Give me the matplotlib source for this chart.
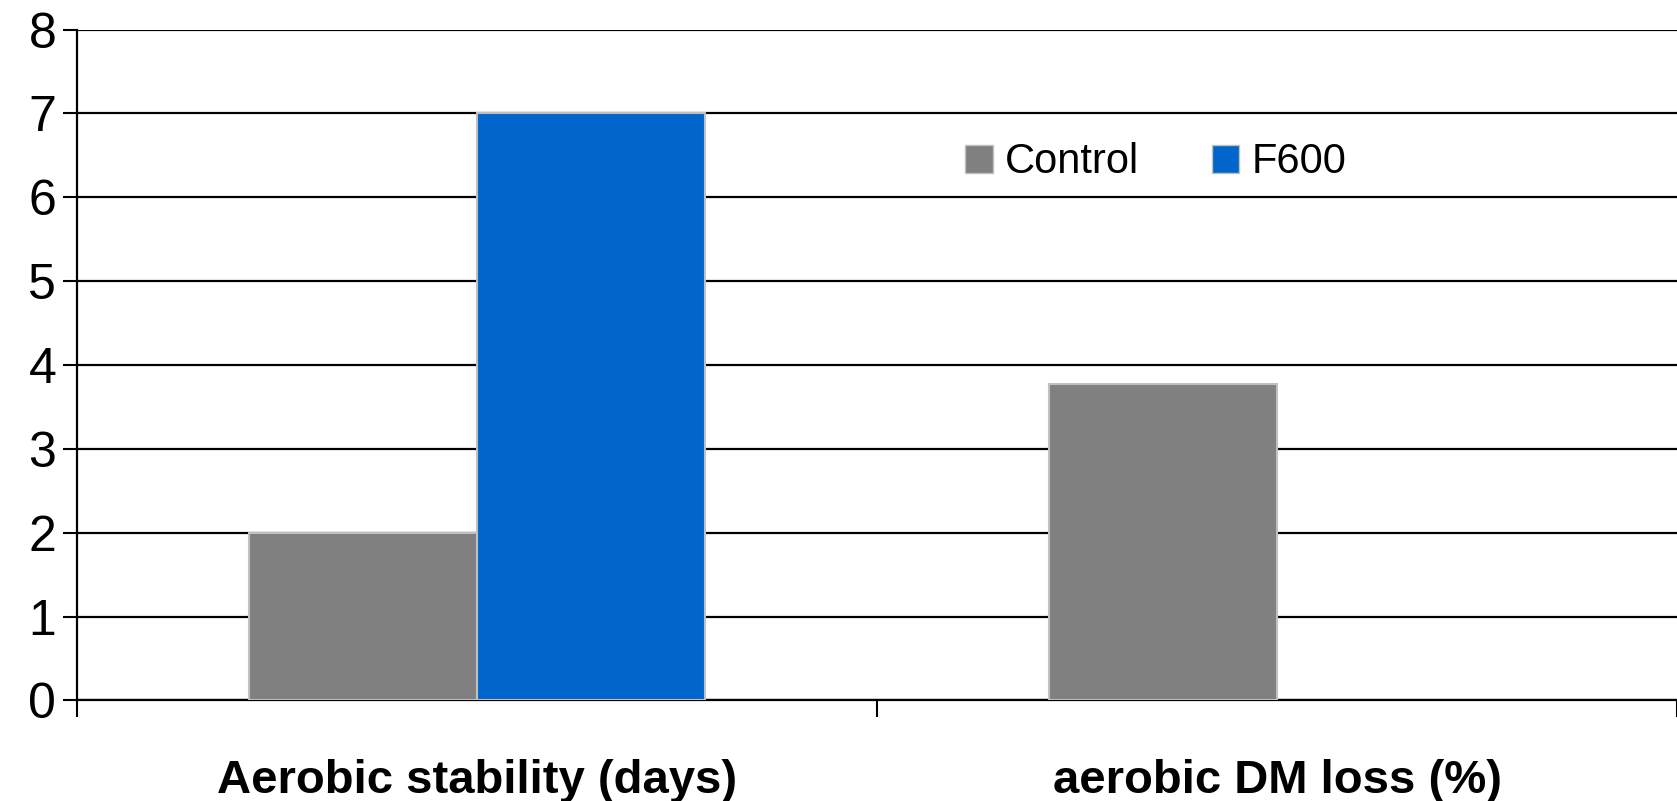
import matplotlib
matplotlib.use("Agg")
import matplotlib.pyplot as plt
from matplotlib.patches import Patch
import numpy as np

categories = ["Aerobic stability (days)", "aerobic DM loss (%)"]
control = [2.0, 3.77]
f600 = [7.0, 0.0]
series_names = ["Control", "F600"]

plt.rcParams["font.family"] = ["Liberation Sans", "DejaVu Sans"]

fig = plt.figure(figsize=(16.77, 8.01), dpi=100)
ax = fig.add_axes([0.046, 0.1255, 0.954, 0.8375])

x = np.arange(len(categories))
bw = 0.285
bars_c = ax.bar(x - bw / 2, control, bw, color="#808080", edgecolor="#c0c0c0", linewidth=1.5, zorder=3)
bars_f = ax.bar(x + bw / 2, f600, bw, color="#0066cc", edgecolor="#c0c0c0", linewidth=1.5, zorder=3)
# empty values: no outline
for b in list(bars_c) + list(bars_f):
    if b.get_height() == 0:
        b.set_visible(False)

ax.set_ylim(0, 8)
ax.set_xlim(-0.5, 1.5)
ax.set_yticks(range(0, 9))
ax.yaxis.grid(True, color="black", linewidth=1.6, zorder=0)
ax.set_axisbelow(True)

ax.set_xticks(x)
ax.set_xticklabels(categories, fontsize=34, fontweight="bold")
ax.set_xticks([-0.5, 0.5, 1.5], minor=True)
ax.tick_params(axis="x", which="major", length=0, pad=42)
ax.tick_params(axis="x", which="minor", length=12, width=1.5, direction="out")
ax.tick_params(axis="y", labelsize=36, length=10, width=1.5, pad=5)

for s in ["top", "right"]:
    ax.spines[s].set_visible(False)
ax.spines["left"].set_linewidth(1.6)
ax.spines["bottom"].set_linewidth(1.6)

handles = [
    Patch(facecolor="#808080", edgecolor="#c0c0c0", label=series_names[0]),
    Patch(facecolor="#0066cc", edgecolor="#c0c0c0", label=series_names[1]),
]
ax.legend(handles=handles, loc="center left", bbox_to_anchor=(0.537, 0.802), ncol=2,
          frameon=False, fontsize=30, handlelength=0.65, handleheight=0.65,
          handletextpad=0.3, columnspacing=1.75, borderpad=0.2)

fig.savefig("out.png", dpi=100)
